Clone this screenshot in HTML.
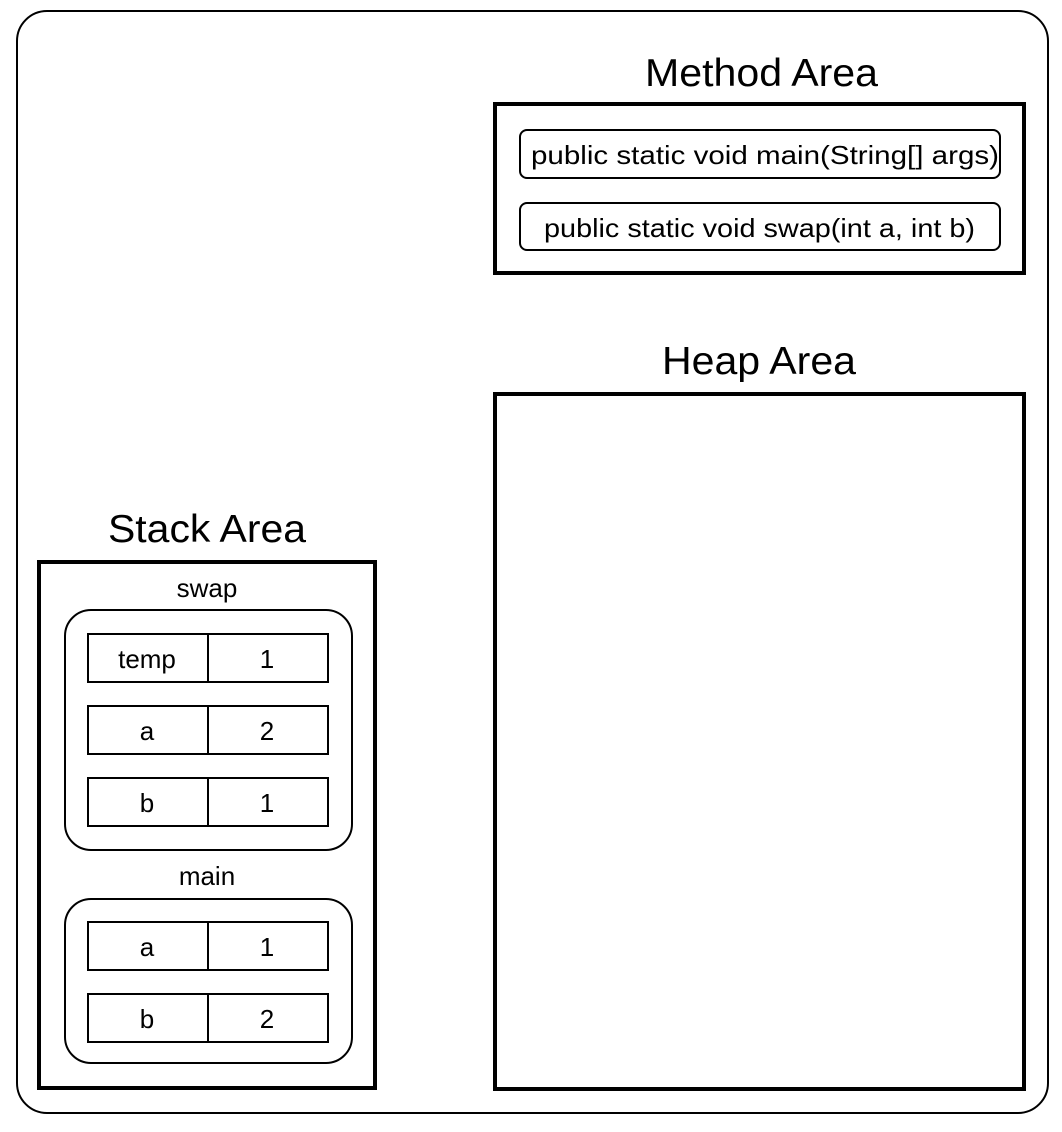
<!DOCTYPE html>
<html><head><meta charset="utf-8"><style>
html,body{margin:0;padding:0;background:#fff;}
svg{display:block;font-family:"Liberation Sans",Arial,sans-serif;}
</style></head><body>
<svg id="d" width="1062" height="1132" viewBox="0 0 1062 1132">
  <rect x="17" y="11" width="1031" height="1102" rx="30" ry="30" fill="#fff" stroke="#000" stroke-width="2"/>
  <text x="645" y="86" font-size="39" textLength="233" lengthAdjust="spacingAndGlyphs">Method Area</text>
  <rect x="495" y="104" width="529" height="169" fill="none" stroke="#000" stroke-width="4"/>
  <rect x="520" y="130" width="480" height="48" rx="7" fill="none" stroke="#000" stroke-width="2"/>
  <text x="531" y="164" font-size="26" textLength="468" lengthAdjust="spacingAndGlyphs">public static void main(String[] args)</text>
  <rect x="520" y="203" width="480" height="47" rx="7" fill="none" stroke="#000" stroke-width="2"/>
  <text x="544" y="237" font-size="26" textLength="431" lengthAdjust="spacingAndGlyphs">public static void swap(int a, int b)</text>
  <text x="662" y="374" font-size="39" textLength="194" lengthAdjust="spacingAndGlyphs">Heap Area</text>
  <rect x="495" y="394" width="529" height="695" fill="none" stroke="#000" stroke-width="4"/>
  <text x="108" y="542" font-size="39" textLength="198" lengthAdjust="spacingAndGlyphs">Stack Area</text>
  <rect x="39" y="562" width="336" height="526" fill="none" stroke="#000" stroke-width="4"/>
  <text x="207" y="597" font-size="26" text-anchor="middle">swap</text>
  <rect x="65" y="610" width="287" height="240" rx="26" fill="none" stroke="#000" stroke-width="2"/>
  <text x="207" y="885" font-size="26" text-anchor="middle">main</text>
  <rect x="65" y="899" width="287" height="164" rx="26" fill="none" stroke="#000" stroke-width="2"/>
  <g id="rows"></g>
</svg>
<script>
const swapNames = ["temp", "a", "b"];
const swapValues = [1, 2, 1];
const mainNames = ["a", "b"];
const mainValues = [1, 2];

const NS = "http://www.w3.org/2000/svg";
const rows = document.getElementById("rows");
function drawRows(names, values, top, prefix) {
  names.forEach(function (n, i) {
    const y = top + i * 72;
    const g = document.createElementNS(NS, "g");
    
    
    const r1 = document.createElementNS(NS, "rect");
    r1.setAttribute("x", 88); r1.setAttribute("y", y); r1.setAttribute("width", 120); r1.setAttribute("height", 48);
    r1.setAttribute("fill", "none"); r1.setAttribute("stroke", "#000"); r1.setAttribute("stroke-width", 2);
    const r2 = document.createElementNS(NS, "rect");
    r2.setAttribute("x", 208); r2.setAttribute("y", y); r2.setAttribute("width", 120); r2.setAttribute("height", 48);
    r2.setAttribute("fill", "none"); r2.setAttribute("stroke", "#000"); r2.setAttribute("stroke-width", 2);
    const t1 = document.createElementNS(NS, "text");
    t1.setAttribute("x", 147); t1.setAttribute("y", y + 34); t1.setAttribute("font-size", 26); t1.setAttribute("text-anchor", "middle");
    t1.textContent = n;
    
    
    const t2 = document.createElementNS(NS, "text");
    t2.setAttribute("x", 267); t2.setAttribute("y", y + 34); t2.setAttribute("font-size", 26); t2.setAttribute("text-anchor", "middle");
    t2.textContent = values[i];
    
    
    g.appendChild(r1); g.appendChild(r2); g.appendChild(t1); g.appendChild(t2);
    rows.appendChild(g);
  });
}
drawRows(swapNames, swapValues, 634, "swap");
drawRows(mainNames, mainValues, 922, "main");
</script>
</body></html>
